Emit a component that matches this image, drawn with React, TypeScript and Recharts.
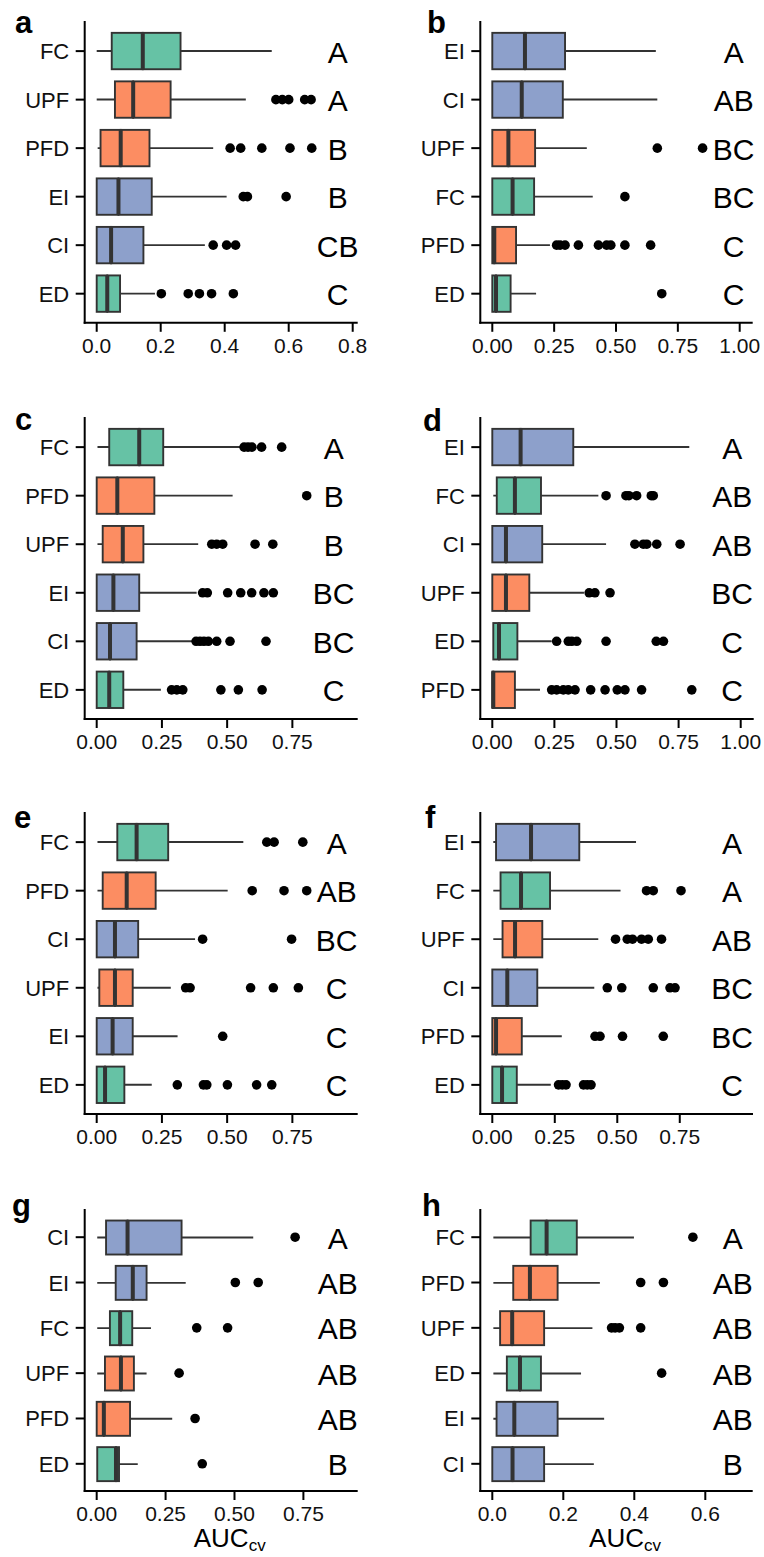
import React from "react"
import { ComposedChart, Bar, Scatter, XAxis, YAxis } from "recharts"

const FONT = "'Liberation Sans', Arial, Helvetica, sans-serif"
const LINE = "#333333"
const GREEN = "#66C2A5"
const ORANGE = "#FC8D62"
const BLUE = "#8DA0CB"

const colorOf: Record<string, string> = {
  FC: GREEN,
  ED: GREEN,
  UPF: ORANGE,
  PFD: ORANGE,
  EI: BLUE,
  CI: BLUE,
}

// x tick values
const ticks02 = [0, 0.2, 0.4, 0.6, 0.8]
const ticks025 = [0, 0.25, 0.5, 0.75, 1]
const ticks075 = [0, 0.25, 0.5, 0.75]
const ticks06 = [0, 0.2, 0.4, 0.6]

// panel a
const aCats = ["FC", "UPF", "PFD", "EI", "CI", "ED"]
const aLo = [0, 0, 0.003, 0, 0, 0]
const aQ1 = [0.047, 0.057, 0.012, 0, 0, 0]
const aMed = [0.144, 0.114, 0.075, 0.068, 0.045, 0.033]
const aQ3 = [0.262, 0.231, 0.165, 0.172, 0.146, 0.073]
const aHi = [0.547, 0.466, 0.364, 0.406, 0.338, 0.182]
const aOut = [
  [],
  [0.56, 0.58, 0.6, 0.65, 0.67],
  [0.417, 0.45, 0.516, 0.604, 0.672],
  [0.458, 0.471, 0.592],
  [0.364, 0.406, 0.434],
  [0.202, 0.286, 0.321, 0.359, 0.427],
]
const aLetters = ["A", "A", "B", "B", "CB", "C"]

// panel b
const bCats = ["EI", "CI", "UPF", "FC", "PFD", "ED"]
const bLo = [0, 0, 0, 0, 0, 0]
const bQ1 = [0, 0, 0, 0, 0, 0]
const bMed = [0.132, 0.119, 0.065, 0.082, 0.008, 0.015]
const bQ3 = [0.294, 0.285, 0.173, 0.169, 0.096, 0.074]
const bHi = [0.661, 0.667, 0.382, 0.406, 0.233, 0.177]
const bOut = [
  [],
  [],
  [0.667, 0.85],
  [0.536],
  [0.26, 0.274, 0.294, 0.348, 0.429, 0.462, 0.479, 0.536, 0.64],
  [0.685],
]
const bLetters = ["A", "AB", "BC", "BC", "C", "C"]

// panel c
const cCats = ["FC", "PFD", "UPF", "EI", "CI", "ED"]
const cLo = [0.003, 0, 0.003, 0, 0, 0]
const cQ1 = [0.048, 0, 0.023, 0, 0, 0]
const cMed = [0.163, 0.079, 0.1, 0.064, 0.051, 0.048]
const cQ3 = [0.255, 0.221, 0.179, 0.163, 0.153, 0.102]
const cHi = [0.556, 0.521, 0.389, 0.383, 0.368, 0.246]
const cOut = [
  [0.565, 0.58, 0.595, 0.632, 0.709],
  [0.805],
  [0.441, 0.46, 0.483, 0.607, 0.675],
  [0.406, 0.424, 0.502, 0.552, 0.594, 0.641, 0.677],
  [0.381, 0.396, 0.411, 0.428, 0.46, 0.511, 0.649],
  [0.287, 0.307, 0.33, 0.476, 0.543, 0.634],
]
const cLetters = ["A", "B", "B", "BC", "BC", "C"]

// panel d
const dCats = ["EI", "FC", "CI", "UPF", "ED", "PFD"]
const dLo = [0, 0.004, 0, 0, 0.004, 0]
const dQ1 = [0, 0.018, 0, 0, 0.004, 0]
const dMed = [0.114, 0.091, 0.055, 0.055, 0.027, 0.004]
const dQ3 = [0.326, 0.196, 0.201, 0.149, 0.101, 0.091]
const dHi = [0.793, 0.427, 0.458, 0.369, 0.239, 0.192]
const dOut = [
  [],
  [0.458, 0.538, 0.55, 0.581, 0.64, 0.648],
  [0.574, 0.608, 0.622, 0.662, 0.756],
  [0.39, 0.413, 0.474],
  [0.259, 0.306, 0.32, 0.34, 0.458, 0.66, 0.689],
  [0.239, 0.259, 0.286, 0.306, 0.333, 0.396, 0.454, 0.503, 0.534, 0.601, 0.803],
]
const dLetters = ["A", "AB", "AB", "BC", "C", "C"]

// panel e
const eCats = ["FC", "PFD", "CI", "UPF", "EI", "ED"]
const eLo = [0.003, 0.003, 0, 0.003, 0, 0]
const eQ1 = [0.079, 0.023, 0, 0.01, 0, 0]
const eMed = [0.153, 0.115, 0.07, 0.07, 0.061, 0.032]
const eQ3 = [0.274, 0.226, 0.159, 0.138, 0.138, 0.106]
const eHi = [0.562, 0.502, 0.377, 0.284, 0.31, 0.211]
const eOut = [
  [0.652, 0.68, 0.79],
  [0.596, 0.718, 0.805],
  [0.406, 0.747],
  [0.341, 0.358, 0.59, 0.677, 0.773],
  [0.483],
  [0.309, 0.409, 0.422, 0.501, 0.613, 0.671],
]
const eLetters = ["A", "AB", "BC", "C", "C", "C"]

// panel f
const fCats = ["EI", "FC", "UPF", "CI", "PFD", "ED"]
const fLo = [0.004, 0.004, 0.004, 0, 0, 0]
const fQ1 = [0.015, 0.033, 0.041, 0, 0, 0]
const fMed = [0.155, 0.115, 0.091, 0.06, 0.015, 0.039]
const fQ3 = [0.348, 0.231, 0.2, 0.18, 0.118, 0.098]
const fHi = [0.575, 0.513, 0.424, 0.408, 0.278, 0.234]
const fOut = [
  [],
  [0.617, 0.644, 0.755],
  [0.493, 0.54, 0.561, 0.597, 0.624, 0.677],
  [0.46, 0.518, 0.644, 0.711, 0.731],
  [0.411, 0.431, 0.521, 0.684],
  [0.265, 0.28, 0.295, 0.365, 0.38, 0.395],
]
const fLetters = ["A", "A", "AB", "BC", "BC", "C"]

// panel g
const gCats = ["CI", "EI", "FC", "UPF", "PFD", "ED"]
const gLo = [0.002, 0.002, 0.002, 0.002, 0, 0.002]
const gQ1 = [0.034, 0.069, 0.048, 0.03, 0, 0.002]
const gMed = [0.112, 0.131, 0.085, 0.088, 0.026, 0.07]
const gQ3 = [0.308, 0.181, 0.129, 0.135, 0.121, 0.081]
const gHi = [0.568, 0.323, 0.197, 0.181, 0.274, 0.149]
const gOut = [[0.72], [0.503, 0.586], [0.363, 0.475], [0.299], [0.357], [0.383]]
const gLetters = ["A", "AB", "AB", "AB", "AB", "B"]

// panel h
const hCats = ["FC", "PFD", "UPF", "ED", "EI", "CI"]
const hLo = [0.003, 0.003, 0.003, 0.003, 0.003, 0]
const hQ1 = [0.108, 0.059, 0.022, 0.041, 0.012, 0]
const hMed = [0.153, 0.106, 0.056, 0.078, 0.062, 0.057]
const hQ3 = [0.238, 0.184, 0.146, 0.137, 0.184, 0.146]
const hHi = [0.399, 0.303, 0.282, 0.25, 0.315, 0.286]
const hOut = [[0.565], [0.418, 0.482], [0.336, 0.346, 0.358, 0.418], [0.477], [], []]
const hLetters = ["A", "AB", "AB", "AB", "AB", "B"]

interface Panel {
  tag: string
  cats: string[]
  lo: number[]
  q1: number[]
  med: number[]
  q3: number[]
  hi: number[]
  out: number[][]
  letters: string[]
  ticks: number[]
  dec: number
  domain: [number, number]
  col: number
  top: number
  bottom: number
  right: number
  inset: number
  tagX: number
  tagY: number
  title?: boolean
}

const panels: Panel[] = [
  { tag: "a", cats: aCats, lo: aLo, q1: aQ1, med: aMed, q3: aQ3, hi: aHi, out: aOut, letters: aLetters,
    ticks: ticks02, dec: 1, domain: [-0.0375, 0.8125], col: 0, top: 22, bottom: 322.8, right: 356.7, inset: 19, tagX: 15, tagY: 33 },
  { tag: "b", cats: bCats, lo: bLo, q1: bQ1, med: bMed, q3: bQ3, hi: bHi, out: bOut, letters: bLetters,
    ticks: ticks025, dec: 2, domain: [-0.0485, 1.0485], col: 1, top: 22, bottom: 322.8, right: 751.7, inset: 18, tagX: 427, tagY: 33 },
  { tag: "c", cats: cCats, lo: cLo, q1: cQ1, med: cMed, q3: cQ3, hi: cHi, out: cOut, letters: cLetters,
    ticks: ticks075, dec: 2, domain: [-0.046, 0.9966], col: 0, top: 418, bottom: 719, right: 356.7, inset: 23, tagX: 15, tagY: 430 },
  { tag: "d", cats: dCats, lo: dLo, q1: dQ1, med: dMed, q3: dQ3, hi: dHi, out: dOut, letters: dLetters,
    ticks: ticks025, dec: 2, domain: [-0.0483, 1.0483], col: 1, top: 418, bottom: 719, right: 752.7, inset: 20.5, tagX: 423, tagY: 431 },
  { tag: "e", cats: eCats, lo: eLo, q1: eQ1, med: eMed, q3: eQ3, hi: eHi, out: eOut, letters: eLetters,
    ticks: ticks075, dec: 2, domain: [-0.046, 0.9966], col: 0, top: 813, bottom: 1114, right: 356.7, inset: 20, tagX: 14, tagY: 828 },
  { tag: "f", cats: fCats, lo: fLo, q1: fQ1, med: fMed, q3: fQ3, hi: fHi, out: fOut, letters: fLetters,
    ticks: ticks075, dec: 2, domain: [-0.048, 1.039], col: 1, top: 813, bottom: 1114, right: 752, inset: 20, tagX: 425, tagY: 828 },
  { tag: "g", cats: gCats, lo: gLo, q1: gQ1, med: gMed, q3: gQ3, hi: gHi, out: gOut, letters: gLetters,
    ticks: ticks075, dec: 2, domain: [-0.0435, 0.9434], col: 0, top: 1210, bottom: 1491, right: 356.7, inset: 19, tagX: 12, tagY: 1216, title: true },
  { tag: "h", cats: hCats, lo: hLo, q1: hQ1, med: hMed, q3: hQ3, hi: hHi, out: hOut, letters: hLetters,
    ticks: ticks06, dec: 1, domain: [-0.0338, 0.7307], col: 1, top: 1210, bottom: 1491, right: 751.7, inset: 19, tagX: 422, tagY: 1216, title: true },
]

const COL_X = [0, 380]
const PLOT_LEFT = [84.7, 480.3]
const CHART_W = 384
const PAD_TOP = 14
const X_AXIS_H = 66

const whisker = (p: any) => {
  const cy = p.y + p.height / 2
  return <line x1={p.x} x2={p.x + p.width} y1={cy} y2={cy} stroke={LINE} strokeWidth={1.9} />
}

const boxLow = (p: any) => (
  <rect x={p.x} y={p.y} width={Math.max(p.width, 0)} height={p.height}
    fill={colorOf[p.payload?.name]} stroke={LINE} strokeWidth={1.9} />
)

const boxHigh = (p: any) => (
  <g>
    <rect x={p.x} y={p.y} width={Math.max(p.width, 0)} height={p.height}
      fill={colorOf[p.payload?.name]} stroke={LINE} strokeWidth={1.9} />
    <line x1={p.x} x2={p.x} y1={p.y} y2={p.y + p.height} stroke={LINE} strokeWidth={4} />
  </g>
)

const dot = (p: any) =>
  p.cx == null || p.cy == null || Number.isNaN(p.cx) ? <g /> : <circle cx={p.cx} cy={p.cy} r={4.8} fill="#000" />

function AucTitle({ viewBox }: any) {
  if (!viewBox) return null
  return (
    <text x={viewBox.x + viewBox.width / 2 + 9} y={viewBox.y + 56} textAnchor="middle"
      fontFamily={FONT} fontSize={26} fill="#000">
      AUC<tspan fontSize={17} dy={4}>cv</tspan>
    </text>
  )
}

function BoxPanel({ cfg }: { cfg: Panel }) {
  const colX = COL_X[cfg.col]
  const plotH = cfg.bottom - cfg.top
  const band = plotH / 6.2
  const pad = plotH / 62
  const height = plotH + PAD_TOP + X_AXIS_H
  const letterX = cfg.right - colX - cfg.inset

  const rows = cfg.cats.map((name, i) => {
    const row: Record<string, any> = {
      name,
      s0: cfg.lo[i],
      s1: cfg.q1[i] - cfg.lo[i],
      s2: cfg.med[i] - cfg.q1[i],
      s3: cfg.q3[i] - cfg.med[i],
      s4: cfg.hi[i] - cfg.q3[i],
    }
    cfg.out[i].forEach((v, j) => {
      row[`o${j}`] = v
    })
    return row
  })
  const maxOut = Math.max(...cfg.out.map((o) => o.length))

  const yTick = (p: any) => {
    const name = p.payload.value
    const i = cfg.cats.indexOf(name)
    return (
      <g>
        <text x={p.x} y={p.y + 8} textAnchor="end" fontFamily={FONT} fontSize={22} fill="#111">
          {name}
        </text>
        <text x={letterX} y={p.y + 11.5} textAnchor="middle" fontFamily={FONT} fontSize={30} fill="#000">
          {cfg.letters[i]}
        </text>
      </g>
    )
  }

  return (
    <div style={{ position: "absolute", left: colX, top: cfg.top - PAD_TOP }}>
      <ComposedChart
        layout="vertical"
        width={CHART_W}
        height={height}
        data={rows}
        barSize={band * 0.75}
        margin={{ top: PAD_TOP, right: colX + CHART_W - cfg.right, bottom: 0, left: 0 }}
      >
        <XAxis
          type="number"
          domain={cfg.domain}
          allowDataOverflow
          ticks={cfg.ticks}
          interval={0}
          height={X_AXIS_H}
          tickSize={9}
          tickMargin={6}
          tickFormatter={(v: number) => v.toFixed(cfg.dec)}
          tick={{ fontSize: 21, fill: "#111", fontFamily: FONT }}
          axisLine={{ stroke: "#000", strokeWidth: 2, strokeLinecap: "square" }}
          tickLine={{ stroke: "#000", strokeWidth: 2 }}
          label={cfg.title ? <AucTitle /> : undefined}
        />
        <YAxis
          type="category"
          dataKey="name"
          width={PLOT_LEFT[cfg.col] - colX}
          padding={{ top: pad, bottom: pad }}
          interval={0}
          tickSize={9}
          tickMargin={6.5}
          tick={yTick}
          axisLine={{ stroke: "#000", strokeWidth: 2, strokeLinecap: "square" }}
          tickLine={{ stroke: "#000", strokeWidth: 2 }}
        />
        <Bar dataKey="s0" stackId="box" fill="transparent" isAnimationActive={false} />
        <Bar dataKey="s1" stackId="box" shape={whisker} isAnimationActive={false} />
        <Bar dataKey="s2" stackId="box" shape={boxLow} isAnimationActive={false} />
        <Bar dataKey="s3" stackId="box" shape={boxHigh} isAnimationActive={false} />
        <Bar dataKey="s4" stackId="box" shape={whisker} isAnimationActive={false} />
        {Array.from({ length: maxOut }, (_, j) => (
          <Scatter key={j} dataKey={`o${j}`} shape={dot} isAnimationActive={false} />
        ))}
      </ComposedChart>
    </div>
  )
}

export default function App() {
  return (
    <div style={{ position: "absolute", left: 0, top: 0, width: 764, height: 1557, overflow: "hidden", background: "#fff" }}>
      {panels.map((p) => (
        <BoxPanel key={p.tag} cfg={p} />
      ))}
      <svg width={764} height={1557} style={{ position: "absolute", left: 0, top: 0, pointerEvents: "none" }}>
        {panels.map((p) => (
          <text key={p.tag} x={p.tagX} y={p.tagY} fontFamily={FONT} fontWeight="bold" fontSize={31} fill="#000">
            {p.tag}
          </text>
        ))}
      </svg>
    </div>
  )
}
